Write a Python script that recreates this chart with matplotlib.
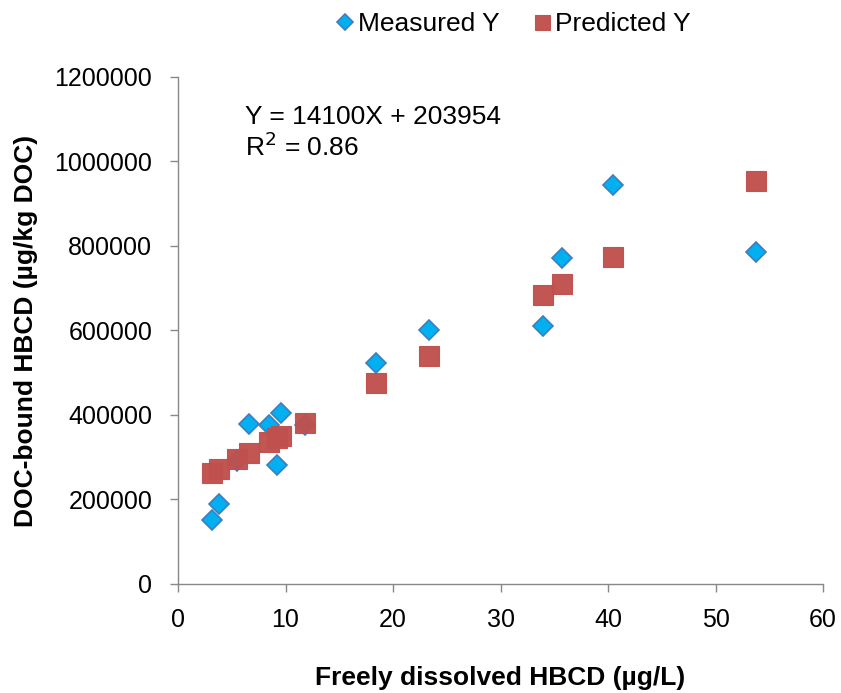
import matplotlib
matplotlib.use("Agg")
import matplotlib.pyplot as plt
from matplotlib.ticker import FuncFormatter

plt.rcParams['font.family'] = ['Liberation Sans', 'DejaVu Sans']

# Freely dissolved HBCD (ug/L)
x_vals = [3.19, 3.81, 5.46, 6.6, 8.45, 9.18, 9.58, 11.81, 18.42, 23.38, 33.98, 35.75, 40.5, 53.8]
# Measured DOC-bound HBCD (ug/kg DOC)
measured_y = [151500, 189300, 291000, 378000, 377000, 281700, 404700, 376000,
              523800, 601200, 611400, 772300, 944400, 786500]
# Predicted DOC-bound HBCD (ug/kg DOC)
predicted_y = [263500, 271400, 295100, 309300, 335300, 344800, 350300, 380300,
               475000, 539600, 684000, 709300, 773300, 954600]

fig = plt.figure(figsize=(8.41, 6.93), dpi=100)
ax = fig.add_axes([0.2117, 0.1573, 0.7669, 0.7316])

ax.plot(x_vals, measured_y, linestyle='none', marker='D', markersize=10.5,
        markerfacecolor='#00B0F0', markeredgecolor='#3F7EC0', markeredgewidth=1.2,
        label="Measured Y", zorder=2)
ax.plot(x_vals, predicted_y, linestyle='none', marker='s', markersize=14.4,
        markerfacecolor='#C0504D', markeredgecolor='#C0504D', markeredgewidth=0.8,
        alpha=0.97, label="Predicted Y", zorder=3)

ax.set_xlim(0, 60)
ax.set_ylim(0, 1200000)
ax.set_xticks(range(0, 61, 10))
ax.set_yticks(range(0, 1200001, 200000))
ax.yaxis.set_major_formatter(FuncFormatter(lambda v, p: f"{int(v)}"))
ax.tick_params(axis='both', labelsize=18, direction='out', length=5.5, width=1,
               color='#888888')
ax.tick_params(axis='x', pad=12)
ax.tick_params(axis='y', pad=13)
for side in ['top', 'right']:
    ax.spines[side].set_visible(False)
for side in ['left', 'bottom']:
    ax.spines[side].set_color('#888888')
    ax.spines[side].set_linewidth(1)

ax.set_xlabel("Freely dissolved HBCD (µg/L)", fontsize=19, fontweight='bold', labelpad=24)
ax.set_ylabel("DOC-bound HBCD (µg/kg DOC)", fontsize=19, fontweight='bold', labelpad=12)

ax.text(6.2, 1105000, "Y = 14100X + 203954", fontsize=19, va='center')
ax.text(6.2, 1034000, r"R$^2$ = 0.86", fontsize=19, va='center')

ax.legend(loc='lower center', bbox_to_anchor=(0.514, 1.06), ncol=2, frameon=False,
          fontsize=19, handletextpad=-0.1, columnspacing=1.0, borderaxespad=0,
          markerscale=0.75, handlelength=1.2)

fig.savefig("out.png", dpi=100)
